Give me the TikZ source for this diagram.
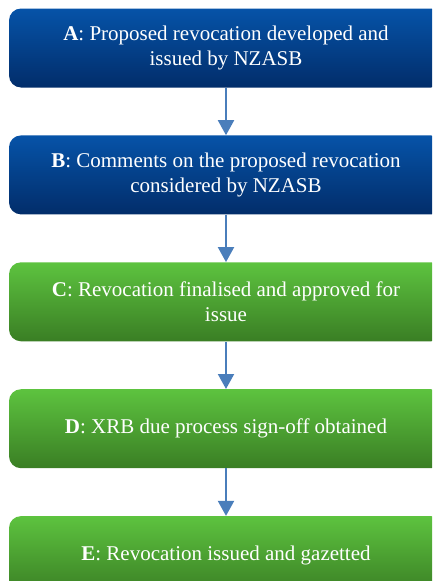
\documentclass[tikz,border=0pt]{standalone}
\usepackage{fontspec}
\setmainfont{Liberation Serif}
\usetikzlibrary{arrows.meta,positioning}
\definecolor{blaaop}{HTML}{0653A8}
\definecolor{blaaned}{HTML}{022D6A}
\definecolor{groenop}{HTML}{5DC33F}
\definecolor{groenned}{HTML}{3A7E24}
\definecolor{pilfarve}{HTML}{4A7EBB}
\tikzset{
    >={Triangle[width=16pt,length=15pt]},
    boks/.style={
           rectangle,
           rounded corners=12pt,
           minimum width=434pt,
           minimum height=79pt,
           inner sep=0pt,
           align=center,
           text=white,
           font=\fontsize{21}{24.5}\selectfont},
    blaa/.style={
           boks,
           top color=blaaop,
           bottom color=blaaned},
    groen/.style={
           boks,
           top color=groenop,
           bottom color=groenned},
    pil/.style={
           ->,
           line width=2pt,
           draw=pilfarve}
}
\begin{document}
\begin{tikzpicture}[node distance=47.5pt, auto,]
        \clip (0,0) rectangle (432pt,-581pt);
        \node[blaa] (a) at (226pt,-48pt) {\textbf{A}: Proposed revocation developed and\\issued by NZASB};
        \node[blaa, below=of a] (b) {\textbf{B}: Comments on the proposed revocation\\considered by NZASB};
        \node[groen, below=of b] (c) {\textbf{C}: Revocation finalised and approved for\\issue};
        \node[groen, below=of c] (d) {\textbf{D}: XRB due process sign-off obtained};
        \node[groen, below=of d] (e) {\textbf{E}: Revocation issued and gazetted};

        \draw[pil] (a) -- (b);
        \draw[pil] (b) -- (c);
        \draw[pil] (c) -- (d);
        \draw[pil] (d) -- (e);

    \end{tikzpicture}
\end{document}
